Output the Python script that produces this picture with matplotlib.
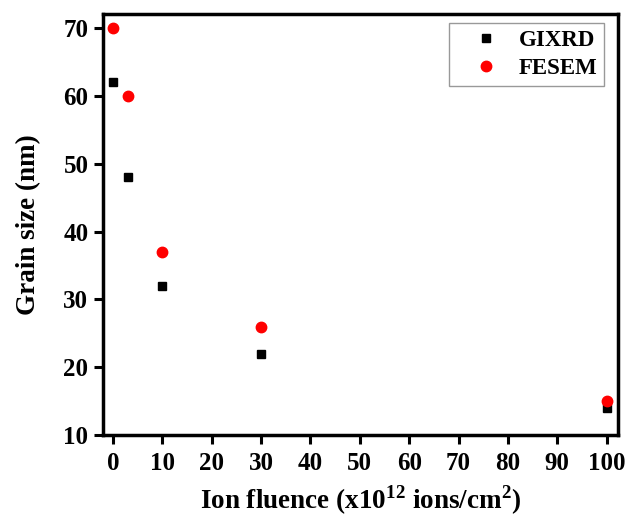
import matplotlib
matplotlib.use("Agg")
import matplotlib.pyplot as plt

fluence = [0, 3, 10, 30, 100]
gixrd = [62, 48, 32, 22, 14]
fesem = [70, 60, 37, 26, 15]
xticks = list(range(0, 101, 10))
yticks = list(range(10, 71, 10))

plt.rcParams['font.family'] = ['Liberation Serif', 'DejaVu Serif']
plt.rcParams['font.weight'] = 'bold'
plt.rcParams['mathtext.fontset'] = 'custom'
plt.rcParams['mathtext.rm'] = 'Liberation Serif:bold'
plt.rcParams['mathtext.bf'] = 'Liberation Serif:bold'

fig = plt.figure(figsize=(6.3, 5.18), dpi=100)
ax = fig.add_axes([0.1635, 0.160, 0.8175, 0.813])

ax.plot(fluence, gixrd, 's', color='black', markersize=6.3, label='GIXRD', linestyle='none')
ax.plot(fluence, fesem, 'o', color='#ff0000', markersize=7.5, label='FESEM', linestyle='none')

ax.set_xlim(-2.0, 102.3)
ax.set_ylim(10, 72.1)
ax.set_xticks(xticks)
ax.set_yticks(yticks)
ax.tick_params(direction='out', length=6.5, width=2.2, labelsize=18, pad=4)
ax.tick_params(axis='x', pad=6)
for lab in ax.get_xticklabels() + ax.get_yticklabels():
    lab.set_fontweight('bold')
for sp in ax.spines.values():
    sp.set_linewidth(2.5)

ax.set_xlabel(r'Ion fluence (x10$^{12}$ ions/cm$^{2}$)', fontsize=19.5, fontweight='bold', labelpad=6)
ax.set_ylabel('Grain size (nm)', fontsize=19.5, fontweight='bold', labelpad=16)

leg = ax.legend(loc='upper right', fontsize=16.5, frameon=True, fancybox=False,
                edgecolor='#808080', handletextpad=0.05, borderpad=0.3,
                labelspacing=0.3, handlelength=2.7, borderaxespad=0,
                bbox_to_anchor=(0.973, 0.979), markerfirst=True)
leg.get_frame().set_linewidth(1.0)
for t in leg.get_texts():
    t.set_fontweight('bold')

fig.savefig('out.png', dpi=100)
